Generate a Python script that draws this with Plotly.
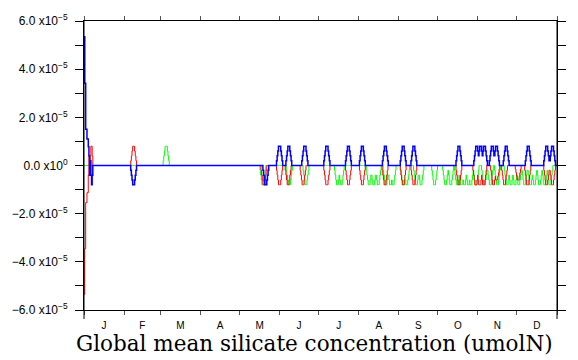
import numpy as np
import plotly.graph_objects as go

# ---------------- data (values in units of 1e-5 umolN) ----------------
MONTH_LABELS = ["J", "F", "M", "A", "M", "J", "J", "A", "S", "O", "N", "D"]
MONTH_STARTS = [0, 31, 59, 90, 120, 151, 181, 212, 243, 273, 304, 334, 365]

Y_TICKS = [-6, -4, -2, 0, 2, 4, 6]
Y_TICK_TEXT = ["\u22126.0 x10<sup>\u22125</sup>", "\u22124.0 x10<sup>\u22125</sup>",
               "\u22122.0 x10<sup>\u22125</sup>", "0.0 x10<sup>0</sup>",
               "2.0 x10<sup>\u22125</sup>", "4.0 x10<sup>\u22125</sup>",
               "6.0 x10<sup>\u22125</sup>"]

# spin-up at the start of the year (day, value)
START_X = [0, 0.6, 1.3, 2.3, 3.3, 3.8, 4.3, 4.8, 5.3, 5.8, 6.3, 6.8, 7.3, 7.8]
BLUE_START = [5.35, 3.42, 1.51, 1.10, 0.78, 0.40, -0.40, 0.20, -0.40, -0.80, -0.40, 0.0, 0.0, 0.0]
RED_START = [-5.35, -3.45, -1.54, -1.13, -0.39, 0.40, -0.40, 0.40, 0.80, 0.80, 0.40, 0.0, 0.0, 0.0]
GREEN_START = [0.0] * len(START_X)

# later spikes: (day of year, peak value)
BLUE_EVENTS = [(38.2, -0.8), (140.2, -0.8), (150.8, 0.8), (158.0, 0.8), (170.3, 0.8),
               (187.3, 0.8), (204.0, 0.8), (214.7, 0.8), (232.4, 0.8), (246.1, 0.8),
               (254.4, 0.8), (289.2, 0.8), (302.9, 0.8), (305.9, 0.8), (308.9, 0.8),
               (315.0, 0.8), (318.1, 0.8), (325.7, 0.8), (342.6, 0.8), (356.9, 0.8),
               (361.4, 0.8)]
RED_EVENTS = [(38.2, 0.8), (138.7, -0.8), (150.8, -0.8), (157.5, -0.8), (169.0, -0.8),
              (187.3, -0.8), (204.0, -0.8), (214.7, -0.8), (232.1, -0.8), (246.1, -0.8),
              (254.4, -0.8), (289.2, -0.8), (302.3, -0.8), (305.3, -0.8), (308.3, -0.8),
              (316.0, -0.8), (318.3, -0.6), (324.5, -0.8), (335.0, -0.6), (342.3, -0.8),
              (356.9, -0.8), (361.4, -0.8)]
GREEN_EVENTS = [(63.3, 0.8), (137.9, -0.8), (158.3, -0.8), (171.1, -0.8), (195.5, -0.8),
                (198.5, -0.8), (220.0, -0.8), (223.5, -0.8), (227.0, -0.8), (233.0, -0.8),
                (236.5, -0.8), (238.5, -0.8), (246.5, -0.8), (249.0, -0.8), (256.5, -0.8),
                (260.0, -0.8), (270.5, -0.8), (279.0, -0.8), (283.0, -0.8), (288.0, -0.8),
                (291.0, -0.8), (293.5, -0.8), (296.5, -0.8), (298.5, -0.8), (302.5, -0.8),
                (309.0, -0.8), (313.5, -0.8), (319.0, -0.8), (326.5, -0.8), (329.5, -0.8),
                (332.5, -0.8), (335.5, -0.8), (340.0, -0.8), (344.5, -0.8), (347.5, -0.8),
                (351.5, -0.8), (355.5, -0.8), (359.5, -0.8)]

SCALE = 1e-5
GRID_STEP = 0.25
PULSE_HALF_WIDTHS = [0.75, 1.25, 1.75, 2.25]   # days
PULSE_LEVELS = [1.0, 0.75, 0.5, 0.25]


def build_series(start_vals, events):
    grid = np.arange(START_X[-1] + GRID_STEP, 365 + GRID_STEP / 2, GRID_STEP)
    vals = np.zeros_like(grid)
    for c, a in events:
        d = np.abs(grid - c)
        prof = np.zeros_like(grid)
        for hw, lv in zip(PULSE_HALF_WIDTHS[::-1], PULSE_LEVELS[::-1]):
            prof[d <= hw] = lv
        cand = a * prof
        vals = np.where(np.abs(cand) > np.abs(vals), cand, vals)
    x = np.concatenate([START_X, grid])
    y = np.concatenate([start_vals, vals]) * SCALE
    return x, y


fig = go.Figure()
for name, start, ev, col, w in [("green", GREEN_START, GREEN_EVENTS, "#00ff00", 1),
                                ("red", RED_START, RED_EVENTS, "#ff0000", 1),
                                ("blue", BLUE_START, BLUE_EVENTS, "#0000ff", 1.5)]:
    x, y = build_series(start, ev)
    fig.add_trace(go.Scatter(x=x, y=y, mode="lines", line=dict(color=col, width=w, shape="hv"),
                             name=name, hoverinfo="skip"))

mid_months = [(MONTH_STARTS[i] + MONTH_STARTS[i + 1]) / 2 for i in range(12)]

fig.update_xaxes(range=[0, 365], showgrid=False, zeroline=False,
                 showline=True, linecolor="black", linewidth=1, mirror="ticks",
                 tickmode="array", tickvals=mid_months, ticktext=MONTH_LABELS,
                 ticks="", ticklabelstandoff=6,
                 tickfont=dict(family="Liberation Sans, Arial", size=10, color="black"),
                 minor=dict(tickmode="array", tickvals=MONTH_STARTS, ticks="outside",
                            ticklen=4, tickcolor="#555555", tickwidth=1, showgrid=False))
fig.update_yaxes(range=[-6 * SCALE, 6 * SCALE], showgrid=False, zeroline=False,
                 showline=True, linecolor="black", linewidth=1, mirror="ticks",
                 tickmode="array", tickvals=[v * SCALE for v in Y_TICKS], ticktext=Y_TICK_TEXT,
                 ticks="outside", ticklen=8, tickcolor="black", tickwidth=1,
                 ticklabelstandoff=5,
                 tickfont=dict(family="Liberation Sans, Arial", size=12, color="black"),
                 minor=dict(tickmode="array", tickvals=[v * SCALE for v in [-5, -3, -1, 1, 3, 5]],
                            ticks="outside", ticklen=8, tickcolor="black", tickwidth=1,
                            showgrid=False))

# axis overshoot lines (frame decoration)
for xp in [0, 1]:
    fig.add_shape(type="line", xref="paper", yref="paper", x0=xp, x1=xp, y0=-0.031, y1=1.0,
                  line=dict(color="black", width=1))

fig.add_annotation(text="Global mean silicate concentration (umolN)", xref="paper", yref="paper",
                   x=0.488, y=-0.115, xanchor="center", yanchor="middle", showarrow=False,
                   font=dict(family="DejaVu Serif", size=21.5, color="black"))

fig.update_layout(width=578, height=360, margin=dict(l=83, r=15, t=15, b=50),
                  plot_bgcolor="white", paper_bgcolor="white", showlegend=False)

fig.write_html("out.html")
